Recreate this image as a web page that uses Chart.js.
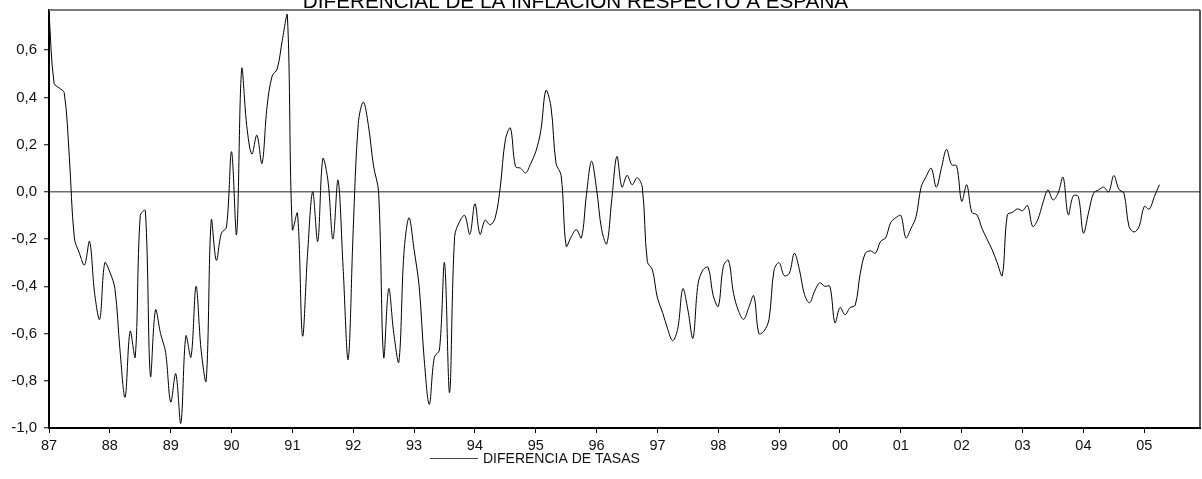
<!DOCTYPE html>
<html>
<head>
<meta charset="utf-8">
<title>Diferencial de la inflación respecto a España</title>
<script src="https://cdn.jsdelivr.net/npm/chart.js@4/dist/chart.umd.min.js"></script>
<style>
  html, body { margin: 0; padding: 0; background: #fff; }
  #wrap { width: 1202px; height: 479px; }
</style>
</head>
<body>
<div id="wrap"><canvas id="grafico" width="1202" height="479"></canvas></div>
<script>
// ---------- Datos (mensuales, 1987M1 - 2005M4) ----------
var titulo = 'DIFERENCIAL DE LA INFLACIÓN RESPECTO A ESPAÑA';
var nombreSerie = 'DIFERENCIA DE TASAS';
var anioInicio = 1987;

var diferencia = [
  0.76, 0.46, 0.44, 0.42, 0.15, -0.195, -0.26, -0.31, -0.21, -0.43, -0.54, -0.30,          // 87
  -0.34, -0.41, -0.67, -0.87, -0.59, -0.70, -0.10, -0.08, -0.78, -0.50, -0.60, -0.68,      // 88
  -0.89, -0.77, -0.98, -0.61, -0.70, -0.40, -0.67, -0.80, -0.12, -0.29, -0.175, -0.15,     // 89
  0.17, -0.18, 0.52, 0.28, 0.16, 0.24, 0.12, 0.36, 0.49, 0.52, 0.64, 0.75,                 // 90
  -0.16, -0.09, -0.61, -0.26, 0.0, -0.21, 0.14, 0.05, -0.20, 0.05, -0.32, -0.71,           // 91
  -0.16, 0.29, 0.38, 0.28, 0.11, 0.0, -0.70, -0.41, -0.60, -0.72, -0.26, -0.11,            // 92
  -0.245, -0.40, -0.71, -0.90, -0.70, -0.67, -0.30, -0.85, -0.19, -0.125, -0.10, -0.18,    // 93
  -0.05, -0.18, -0.12, -0.14, -0.11, 0.02, 0.22, 0.27, 0.107, 0.10, 0.08, 0.12,            // 94
  0.17, 0.26, 0.43, 0.36, 0.12, 0.07, -0.23, -0.19, -0.16, -0.195, -0.01, 0.13,            // 95
  0.01, -0.16, -0.22, -0.03, 0.15, 0.02, 0.07, 0.03, 0.06, 0.02, -0.295, -0.33,            // 96
  -0.45, -0.51, -0.58, -0.63, -0.58, -0.41, -0.50, -0.62, -0.39, -0.33, -0.32, -0.44,      // 97
  -0.485, -0.315, -0.29, -0.43, -0.505, -0.54, -0.49, -0.44, -0.60, -0.59, -0.54, -0.33,   // 98
  -0.30, -0.355, -0.345, -0.26, -0.33, -0.435, -0.47, -0.42, -0.385, -0.40, -0.40, -0.555, // 99
  -0.49, -0.52, -0.49, -0.48, -0.345, -0.26, -0.25, -0.26, -0.21, -0.195, -0.13, -0.11,    // 00
  -0.10, -0.195, -0.155, -0.105, 0.02, 0.065, 0.10, 0.02, 0.10, 0.18, 0.115, 0.11,         // 01
  -0.04, 0.03, -0.087, -0.097, -0.155, -0.20, -0.245, -0.30, -0.355, -0.097, -0.087, -0.072, // 02
  -0.08, -0.058, -0.147, -0.118, -0.048, 0.008, -0.034, -0.006, 0.062, -0.097, -0.017, -0.02, // 03
  -0.175, -0.09, -0.006, 0.008, 0.02, 0.0, 0.069, 0.011, -0.006, -0.147, -0.17, -0.147,    // 04
  -0.062, -0.073, -0.02, 0.03                                                              // 05
];

var aniosX = [1987, 1988, 1989, 1990, 1991, 1992, 1993, 1994, 1995, 1996,
              1997, 1998, 1999, 2000, 2001, 2002, 2003, 2004, 2005];
var etiquetasX = ['87', '88', '89', '90', '91', '92', '93', '94', '95', '96',
                  '97', '98', '99', '00', '01', '02', '03', '04', '05'];
var ticksY = [-1.0, -0.8, -0.6, -0.4, -0.2, 0.0, 0.2, 0.4, 0.6];
var etiquetasY = ['-1,0', '-0,8', '-0,6', '-0,4', '-0,2', '0,0', '0,2', '0,4', '0,6'];

// ---------- Construccion ----------
var FUENTE = '"Liberation Sans", Arial, sans-serif';

var puntos = diferencia.map(function (v, i) {
  return { x: anioInicio + i / 12, y: v };
});

// Titulo, leyenda y marco (arriba / derecha) dibujados a mano
var extras = {
  id: 'extras',
  afterDraw: function (chart) {
    var ctx = chart.ctx;
    var a = chart.chartArea;
    ctx.save();
    // marco superior gris y derecho
    ctx.strokeStyle = '#7a7a7a';
    ctx.lineWidth = 2;
    ctx.beginPath();
    ctx.moveTo(a.left, a.top);
    ctx.lineTo(a.right, a.top);
    ctx.stroke();
    ctx.strokeStyle = '#222';
    ctx.lineWidth = 1.5;
    ctx.beginPath();
    ctx.moveTo(a.right, a.top);
    ctx.lineTo(a.right, a.bottom);
    ctx.stroke();

    // titulo (cortado por arriba, como en el original)
    ctx.fillStyle = '#000';
    ctx.font = '20.7px ' + FUENTE;
    ctx.textAlign = 'center';
    ctx.textBaseline = 'alphabetic';
    ctx.fillText(titulo, 575.5, 7.5);

    // leyenda
    ctx.strokeStyle = '#444';
    ctx.lineWidth = 1;
    ctx.beginPath();
    ctx.moveTo(430, 458.5);
    ctx.lineTo(478, 458.5);
    ctx.stroke();
    ctx.fillStyle = '#111';
    ctx.font = '14px ' + FUENTE;
    ctx.textAlign = 'left';
    ctx.textBaseline = 'middle';
    ctx.fillText(nombreSerie, 483, 459);
    ctx.restore();
  }
};

new Chart(document.getElementById('grafico'), {
  type: 'line',
  data: {
    datasets: [{
      label: nombreSerie,
      data: puntos,
      borderColor: '#000',
      borderWidth: 1,
      pointRadius: 0,
      tension: 0.35,
      fill: false
    }]
  },
  options: {
    responsive: false,
    animation: false,
    layout: { padding: { top: 10, right: 2, left: 0, bottom: 0 } },
    plugins: {
      legend: { display: false },
      title: { display: false },
      tooltip: { enabled: false }
    },
    scales: {
      x: {
        type: 'linear',
        min: anioInicio,
        max: anioInicio + 227 / 12,
        afterBuildTicks: function (ax) {
          ax.ticks = aniosX.map(function (v) { return { value: v }; });
        },
        afterFit: function (ax) { ax.height = 51; },
        ticks: {
          autoSkip: false,
          maxRotation: 0,
          padding: 4,
          color: '#111',
          font: { family: FUENTE, size: 14.5 },
          callback: function (v) {
            var k = aniosX.indexOf(Math.round(v));
            return k >= 0 ? etiquetasX[k] : '';
          }
        },
        grid: {
          drawOnChartArea: false,
          drawTicks: true,
          tickLength: 5,
          tickColor: '#000',
          tickWidth: 1
        },
        border: { display: true, color: '#000', width: 2 }
      },
      y: {
        min: -1.0,
        max: 0.77,
        afterBuildTicks: function (ax) {
          ax.ticks = ticksY.map(function (v) { return { value: v }; });
        },
        afterFit: function (ax) {
          ax.width = 49;
          ax.paddingTop = 0;
        },
        ticks: {
          autoSkip: false,
          padding: 7,
          color: '#111',
          font: { family: FUENTE, size: 15 },
          callback: function (v) {
            for (var k = 0; k < ticksY.length; k++) {
              if (Math.abs(ticksY[k] - v) < 1e-6) return etiquetasY[k];
            }
            return '';
          }
        },
        grid: {
          drawOnChartArea: true,
          drawTicks: true,
          tickLength: 5,
          tickColor: '#000',
          tickWidth: 1,
          lineWidth: 1.5,
          color: function (c) {
            return (c.tick && Math.abs(c.tick.value) < 1e-6) ? '#6e6e6e' : 'rgba(0,0,0,0)';
          }
        },
        border: { display: true, color: '#000', width: 2 }
      }
    }
  },
  plugins: [extras]
});
</script>
</body>
</html>
